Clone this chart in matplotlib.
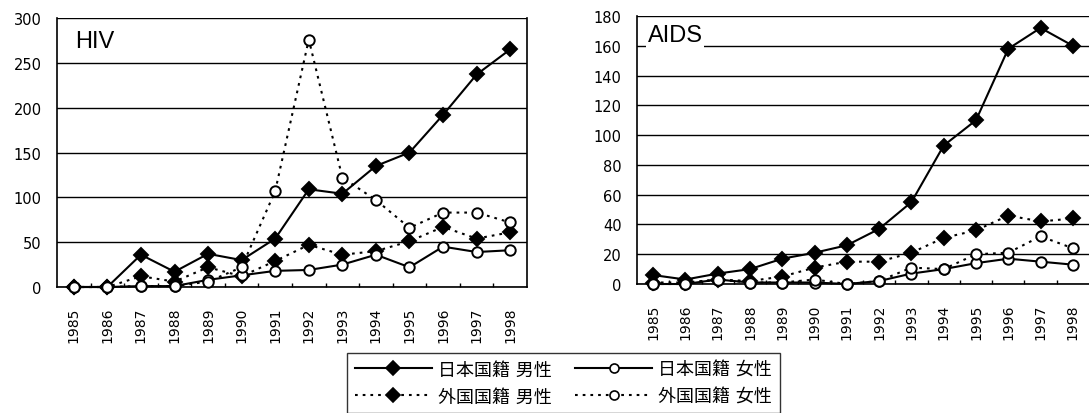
import matplotlib
matplotlib.use("Agg")
import matplotlib.pyplot as plt
from matplotlib.lines import Line2D

plt.rcParams['font.family'] = ['DejaVu Sans', 'Noto Sans CJK JP']

years = ['1985', '1986', '1987', '1988', '1989', '1990', '1991',
         '1992', '1993', '1994', '1995', '1996', '1997', '1998']

series_labels = ['日本国籍 男性', '日本国籍 女性', '外国国籍 男性', '外国国籍 女性']

hiv_jp_male = [0, 0, 36, 17, 37, 30, 54, 109, 104, 135, 150, 192, 237, 265]
hiv_jp_female = [0, 0, 1, 1, 8, 13, 18, 19, 25, 36, 22, 45, 39, 41]
hiv_fo_male = [0, 0, 12, 6, 22, 12, 29, 47, 36, 40, 51, 67, 54, 61]
hiv_fo_female = [0, 0, 1, 1, 6, 22, 107, 276, 122, 97, 66, 83, 83, 72]

aids_jp_male = [6, 3, 7, 10, 17, 21, 26, 37, 55, 93, 110, 158, 172, 160]
aids_jp_female = [0, 0, 3, 1, 1, 1, 0, 2, 7, 10, 14, 17, 15, 13]
aids_fo_male = [1, 1, 3, 2, 5, 11, 15, 15, 21, 31, 36, 46, 42, 44]
aids_fo_female = [0, 0, 3, 1, 1, 3, 0, 2, 11, 10, 20, 21, 32, 24]

W, H = 1089, 414
fig = plt.figure(figsize=(W / 100, H / 100), dpi=100)


def px_axes(left, top, right, bottom):
    return fig.add_axes([left / W, 1 - bottom / H, (right - left) / W, (bottom - top) / H])


dot = (0, (1.3, 2.4))
styles = [
    dict(ls='-', marker='D', mfc='black', mec='black'),
    dict(ls='-', marker='o', mfc='white', mec='black'),
    dict(ls=dot, marker='D', mfc='black', mec='black'),
    dict(ls=dot, marker='o', mfc='white', mec='black'),
]


def draw(ax, data, ymax, ystep, title, tx, ty, right_spine):
    x = list(range(len(years)))
    order = [0, 2, 1, 3]
    for i in order:
        st = styles[i]
        ax.plot(x, data[i], color='black', lw=1.5, linestyle=st['ls'],
                marker=st['marker'], markersize=7.5, markerfacecolor=st['mfc'],
                markeredgecolor=st['mec'], markeredgewidth=1.4, zorder=3 + (i % 2),
                clip_on=False)
    ax.set_xlim(-0.5, len(years) - 0.5)
    ax.set_ylim(0, ymax)
    ax.set_yticks(range(0, ymax + 1, ystep))
    ax.set_xticks(x)
    ax.set_xticklabels(years, rotation=90)
    ax.set_xticks([i + 0.5 for i in range(len(years) - 1)], minor=True)
    ax.tick_params(axis='x', which='major', length=0, pad=14, labelsize=10)
    ax.tick_params(axis='x', which='minor', length=3, direction='in', width=1)
    ax.tick_params(axis='y', length=0, pad=11, labelsize=10.5)
    ax.yaxis.grid(True, color='black', lw=1)
    ax.set_axisbelow(True)
    ax.spines['top'].set_visible(False)
    ax.spines['right'].set_visible(right_spine)
    for s in ax.spines.values():
        s.set_linewidth(1.2)
    ax.text(tx, ty, title, transform=ax.transAxes, fontsize=17, va='baseline',
            ha='left', zorder=6, family='Liberation Sans',
            bbox=dict(facecolor='white', edgecolor='none', pad=1))


ax1 = px_axes(57, 19, 527, 288)
draw(ax1, [hiv_jp_male, hiv_jp_female, hiv_fo_male, hiv_fo_female], 300, 50,
     'HIV', 0.038, 0.893, True)

ax2 = px_axes(637, 17, 1089, 285)
draw(ax2, [aids_jp_male, aids_jp_female, aids_fo_male, aids_fo_female], 180, 20,
     'AIDS', 0.024, 0.905, False)

handles = []
for i in [0, 2, 1, 3]:
    st = styles[i]
    ms = 7.5 if st['marker'] == 'D' else 6.5
    handles.append(Line2D([], [], color='black', lw=1.5, linestyle=st['ls'],
                          marker=st['marker'], markersize=ms,
                          markerfacecolor=st['mfc'], markeredgecolor='black',
                          markeredgewidth=1.2))
labels = [series_labels[i] for i in [0, 2, 1, 3]]
leg = fig.legend(handles, labels, ncol=2, loc='upper left',
                 bbox_to_anchor=(347 / W, 1 - 354 / H), frameon=True,
                 fancybox=False, edgecolor='black', fontsize=13,
                 handlelength=4.27, handletextpad=0.33, columnspacing=1.33,
                 labelspacing=0.5, borderpad=0.42, borderaxespad=0)
leg.get_frame().set_linewidth(1.0)

fig.savefig('out.png', dpi=100, facecolor='white')
